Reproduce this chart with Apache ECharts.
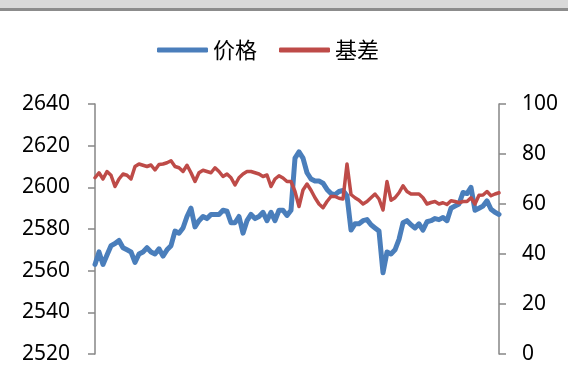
<!DOCTYPE html>
<html>
<head>
<meta charset="utf-8">
<script src="https://cdn.jsdelivr.net/npm/echarts@6/dist/echarts.min.js"></script>
<style>
html,body{margin:0;padding:0;background:#fff;}
#c{width:568px;height:366px;}
</style>
</head>
<body>
<div id="c"></div>
<script>
var seriesNames = ['价格', '基差'];
var priceValues = [
2563,2569,2563,2567.5,2572,2573,2574.5,2571,2570,2569,
2564,2568,2569,2571,2569,2568,2570.5,2567,2570,2572,
2579,2578,2580.5,2586,2590,2581,2584,2586,2585,2587,
2587,2587,2589,2588.5,2583,2583,2586,2578,2584,2587,
2585,2586,2588,2584,2588,2584,2589,2589,2586.5,2589,
2614,2617,2614,2607,2604,2603,2603,2602,2599,2597,
2596.5,2598,2598.5,2596,2579.5,2582.5,2582.5,2584,2584.5,2582,
2580.5,2579,2559,2569,2568,2570,2575,2583,2584,2582,
2580.5,2582.5,2579.5,2583.5,2584,2585,2584.5,2585.5,2584,2590,
2591,2592,2597.5,2597,2600,2589,2590,2591,2593.5,2589.5,
2588,2587
];
var basisValues = [
70.5,72.5,70,73,71.5,67,70,72,71.5,70,
75,76,75.5,75,75.6,73.6,75.8,76,76.5,77.3,
75,74.5,73,75.5,72.5,69,72.5,73.5,73,72.5,
74.5,73,71,72,70.5,67.6,70.5,72,73,73,
72.5,72,71,71.6,67,70,71.3,70.4,69,69,
65,59,65.6,68,65.5,62.5,60,58.5,61,63,
63,62.3,62,76,63.8,62.5,61.5,60,61,62.5,
64,62,57.6,69,61.5,62.5,64.5,67.3,65,64,
64,64,62.5,60,60.6,61,60,60.5,59.8,61.3,
61,60.5,61,61,62.5,60,63.5,63.6,65,63.3,
64,64.5
];
var categories = priceValues.map(function (v, i) { return String(i + 1); });
var leftTicks = [2520, 2640, 20];
var rightTicks = [0, 100, 20];

var axisColor = '#868686';
var chart = echarts.init(document.getElementById('c'));
chart.setOption({
  animation: false,
  backgroundColor: '#fff',
  graphic: [
    {type: 'rect', left: 0, top: 0, shape: {width: 568, height: 8}, style: {fill: '#d9d9d9'}, silent: true},
    {type: 'rect', left: 0, top: 8, shape: {width: 568, height: 3}, style: {fill: '#8c8c8c'}, silent: true}
  ],
  legend: {
    left: 157,
    top: 38,
    padding: 0,
    itemWidth: 51,
    itemHeight: 5,
    itemGap: 22,
    icon: 'roundRect',
    textStyle: {fontFamily: 'Noto Sans CJK SC', fontSize: 22, color: '#000', lineHeight: 24, padding: [0, 0, 0, 0]},
    data: seriesNames
  },
  grid: {left: 95, right: 69, top: 104, bottom: 12, containLabel: false},
  xAxis: {
    type: 'category',
    data: categories,
    boundaryGap: false,
    show: false
  },
  yAxis: [
    {
      type: 'value', min: leftTicks[0], max: leftTicks[1], interval: leftTicks[2],
      position: 'left',
      axisLine: {show: true, lineStyle: {color: axisColor, width: 1.5}},
      axisTick: {show: true, length: 7, lineStyle: {color: axisColor, width: 1.5}},
      axisLabel: {margin: 25, fontSize: 21, color: '#000', fontFamily: 'Noto Sans', formatter: function (v) { return String(v); }},
      splitLine: {show: false}
    },
    {
      type: 'value', min: rightTicks[0], max: rightTicks[1], interval: rightTicks[2],
      position: 'right',
      axisLine: {show: true, lineStyle: {color: axisColor, width: 1.5}},
      axisTick: {show: true, length: 7, lineStyle: {color: axisColor, width: 1.5}},
      axisLabel: {margin: 23, fontSize: 21, color: '#000', fontFamily: 'Noto Sans', formatter: function (v) { return String(v); }},
      splitLine: {show: false}
    }
  ],
  series: [
    {
      name: seriesNames[0], type: 'line', yAxisIndex: 0, data: priceValues,
      showSymbol: false, symbol: 'none',
      lineStyle: {color: '#4a7ebb', width: 5, join: 'round', cap: 'round'},
      itemStyle: {color: '#4a7ebb'}
    },
    {
      name: seriesNames[1], type: 'line', yAxisIndex: 1, data: basisValues,
      showSymbol: false, symbol: 'none',
      lineStyle: {color: '#be4b48', width: 3.5, join: 'round', cap: 'round'},
      itemStyle: {color: '#be4b48'}
    }
  ]
});
</script>
</body>
</html>
